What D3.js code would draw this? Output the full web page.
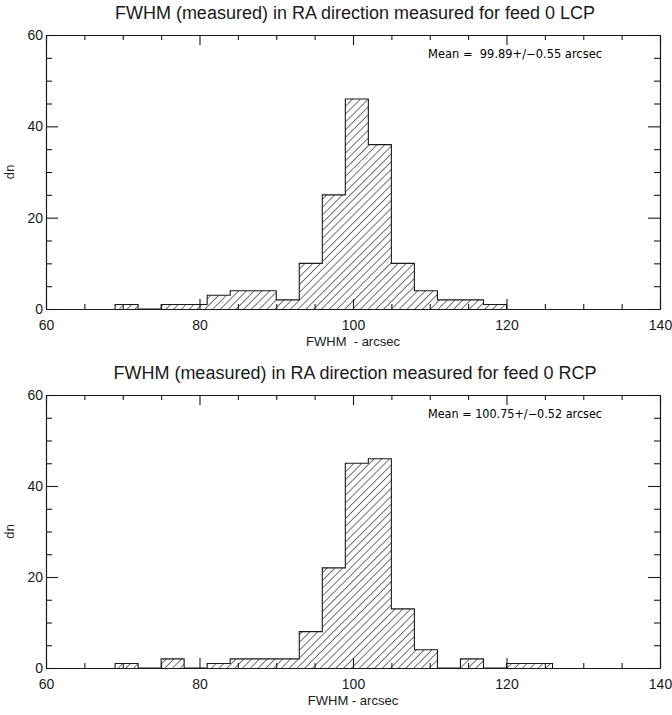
<!DOCTYPE html>
<html>
<head>
<meta charset="utf-8">
<script src="https://cdn.jsdelivr.net/npm/d3@7"></script>
<style>
  body { margin: 0; background: #fff; }
  svg { display: block; }
  text { white-space: pre; }
  .tick text { font-family: "Liberation Sans", Arial, sans-serif; }
</style>
</head>
<body>
<div id="chart"></div>
<script>
// bin lower edges (arcsec), 3 arcsec wide
const binEdgesLCP = [69, 72, 75, 78, 81, 84, 87, 90, 93, 96, 99, 102, 105, 108, 111, 114, 117];
const countsLCP   = [1, 0, 1, 1, 3, 4, 4, 2, 10, 25, 46, 36, 10, 4, 2, 2, 1];

const binEdgesRCP = [69, 72, 75, 78, 81, 84, 87, 90, 93, 96, 99, 102, 105, 108, 111, 114, 117, 120, 123];
const countsRCP   = [1, 0, 2, 0, 1, 2, 2, 2, 8, 22, 45, 46, 13, 4, 0, 2, 0, 1, 1];

const binWidth = 3;
const xTicks = [60, 80, 100, 120, 140];
const yTicks = [0, 20, 40, 60];

const panels = [
  { title: "FWHM (measured) in RA direction measured for feed 0 LCP",
    mean: "Mean =  99.89+/\u22120.55 arcsec", xlabel: "FWHM  - arcsec",
    edges: binEdgesLCP, counts: countsLCP, top: 35, bottom: 309 },
  { title: "FWHM (measured) in RA direction measured for feed 0 RCP",
    mean: "Mean = 100.75+/\u22120.52 arcsec", xlabel: "FWHM - arcsec",
    edges: binEdgesRCP, counts: countsRCP, top: 395, bottom: 668 }
];

const width = 672, height = 715;
const left = 46, right = 660;
const ink = "#1a1a1a";

const svg = d3.select("#chart").append("svg")
  .attr("width", width).attr("height", height);

// hatch pattern (45 deg lines)
const defs = svg.append("defs");
defs.append("pattern")
  .attr("id", "hatch")
  .attr("patternUnits", "userSpaceOnUse")
  .attr("width", 5.5).attr("height", 10)
  .attr("patternTransform", "rotate(45)")
  .append("line")
  .attr("x1", 0).attr("y1", 0).attr("x2", 0).attr("y2", 10)
  .attr("stroke", "#000").attr("stroke-width", 1.1);

const x = d3.scaleLinear().domain([60, 140]).range([left, right]);

panels.forEach(p => {
  const y = d3.scaleLinear().domain([0, 60]).range([p.bottom, p.top]);
  const g = svg.append("g");

  // bars (hatched)
  g.selectAll(".bar")
    .data(p.counts.map((c, i) => ({ x0: p.edges[i], c })))
    .enter().append("rect")
    .attr("x", d => x(d.x0))
    .attr("y", d => y(d.c))
    .attr("width", d => x(d.x0 + binWidth) - x(d.x0))
    .attr("height", d => y(0) - y(d.c))
    .attr("fill", "url(#hatch)");

  // step outline
  const pts = [[p.edges[0], 0]];
  p.counts.forEach((c, i) => pts.push([p.edges[i], c]));
  pts.push([p.edges[p.edges.length - 1] + binWidth, 0]);
  g.append("path")
    .attr("d", d3.line().x(d => x(d[0])).y(d => y(d[1])).curve(d3.curveStepAfter)(pts))
    .attr("fill", "none").attr("stroke", ink).attr("stroke-width", 1.1);

  const minorX = d3.range(60, 141, 5).filter(v => v % 20);
  const minorY = d3.range(0, 61, 5).filter(v => v % 20);

  // bottom axis
  g.append("g").attr("transform", `translate(0,${p.bottom})`)
    .call(d3.axisBottom(x).tickValues(xTicks).tickSizeInner(-10).tickSizeOuter(0).tickPadding(11));
  g.append("g").attr("transform", `translate(0,${p.bottom})`)
    .call(d3.axisBottom(x).tickValues(minorX).tickSizeInner(-5).tickSizeOuter(0).tickFormat(""));
  // top axis
  g.append("g").attr("transform", `translate(0,${p.top})`)
    .call(d3.axisTop(x).tickValues(xTicks).tickSizeInner(-10).tickSizeOuter(0).tickFormat(""));
  g.append("g").attr("transform", `translate(0,${p.top})`)
    .call(d3.axisTop(x).tickValues(minorX).tickSizeInner(-5).tickSizeOuter(0).tickFormat(""));
  // left axis
  g.append("g").attr("transform", `translate(${left},0)`)
    .call(d3.axisLeft(y).tickValues(yTicks).tickSizeInner(-12).tickSizeOuter(0).tickPadding(3));
  g.append("g").attr("transform", `translate(${left},0)`)
    .call(d3.axisLeft(y).tickValues(minorY).tickSizeInner(-6).tickSizeOuter(0).tickFormat(""));
  // right axis
  g.append("g").attr("transform", `translate(${right},0)`)
    .call(d3.axisRight(y).tickValues(yTicks).tickSizeInner(-12).tickSizeOuter(0).tickFormat(""));
  g.append("g").attr("transform", `translate(${right},0)`)
    .call(d3.axisRight(y).tickValues(minorY).tickSizeInner(-6).tickSizeOuter(0).tickFormat(""));

  g.selectAll(".domain, .tick line").attr("stroke", ink).attr("stroke-width", 1.1);
  g.selectAll(".tick text").attr("fill", ink).style("font-size", "14px");

  // title
  g.append("text")
    .attr("x", 355).attr("y", p.top - 16)
    .attr("text-anchor", "middle")
    .style("font-family", "'Liberation Sans', Arial, sans-serif")
    .style("font-size", "18px").attr("fill", ink)
    .text(p.title);

  // x label
  g.append("text")
    .attr("x", 353).attr("y", p.bottom + 37)
    .attr("text-anchor", "middle")
    .style("font-family", "'Liberation Sans', Arial, sans-serif")
    .style("font-size", "13px").attr("fill", ink)
    .text(p.xlabel);

  // y label
  g.append("text")
    .attr("transform", `translate(14,${(p.top + p.bottom) / 2}) rotate(-90)`)
    .attr("text-anchor", "middle")
    .style("font-family", "'DejaVu Sans', sans-serif")
    .style("font-size", "12px").attr("fill", ink)
    .text("dn");

  // mean annotation
  g.append("text")
    .attr("x", 428).attr("y", p.top + 23)
    .attr("textLength", 174).attr("lengthAdjust", "spacingAndGlyphs")
    .style("font-family", "'DejaVu Sans', sans-serif")
    .style("font-size", "12px").attr("fill", "#000")
    .text(p.mean);
});
</script>
</body>
</html>
